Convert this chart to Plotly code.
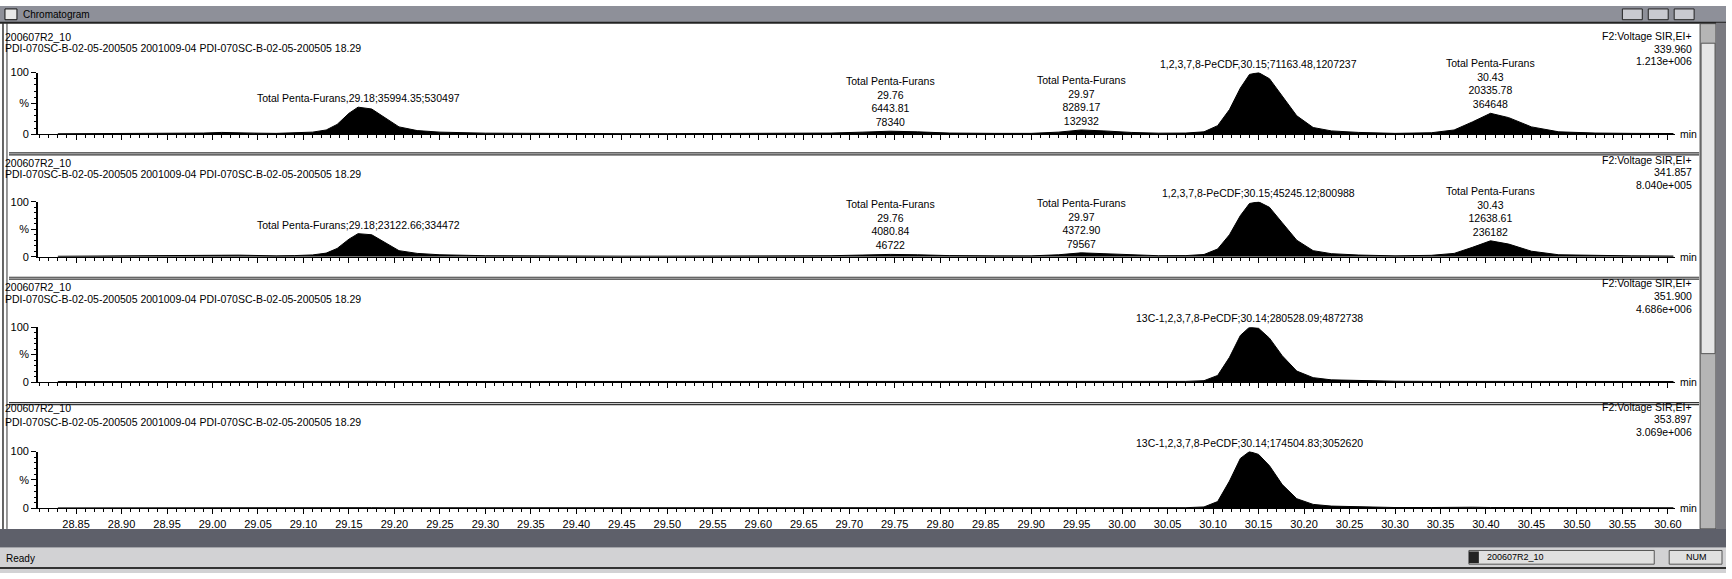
import plotly.graph_objects as go

W, H = 1732, 579

# retention time grid (min) and relative intensity (%) per SIR channel
rt = [28.83, 28.87, 28.92, 28.96, 28.99, 29.01, 29.03, 29.05, 29.07, 29.09,
      29.11, 29.125, 29.137, 29.15, 29.16, 29.175, 29.19, 29.205, 29.225, 29.25,
      29.30, 29.35, 29.40, 29.45, 29.50, 29.55, 29.60, 29.65, 29.68, 29.715,
      29.745, 29.775, 29.81, 29.86, 29.90, 29.93, 29.955, 29.98, 30.01, 30.04,
      30.07, 30.09, 30.105, 30.118, 30.13, 30.14, 30.15, 30.162, 30.176, 30.192,
      30.21, 30.23, 30.26, 30.30, 30.34, 30.365, 30.385, 30.405, 30.425, 30.45,
      30.48, 30.52, 30.56, 30.606]

int_339 = [0.8, 1.0, 1.0, 1.2, 2.0, 3.0, 3.0, 1.8, 1.5, 2.0,
           3.5, 7, 16, 34, 44, 41, 26, 12, 6, 3.5,
           1.8, 1.2, 1.5, 1.0, 1.0, 1.2, 1.5, 1.5, 2.0, 3.5,
           5, 4, 2, 1.5, 1.5, 3.5, 7, 5.5, 3, 1.8,
           2, 4, 14, 40, 75, 97, 100, 90, 62, 30,
           11, 5.5, 3, 1.5, 2.5, 7, 20, 34, 27, 12,
           4, 2, 1.5, 1.2]
int_341 = [0.8, 1.0, 1.0, 1.0, 1.8, 2.6, 2.8, 1.8, 1.5, 2.0,
           3.2, 6.5, 15, 32, 42, 40, 25, 11, 6, 3.5,
           1.8, 1.2, 1.2, 1.0, 1.0, 1.0, 1.2, 1.2, 1.8, 3.0,
           4.2, 3.5, 2, 1.5, 1.5, 3.5, 7, 5.5, 3, 1.8,
           2, 4, 14, 40, 75, 97, 100, 90, 62, 30,
           11, 5.5, 3, 1.5, 2.5, 6, 17, 29, 23, 10,
           3.5, 2, 1.5, 1.2]
int_351 = [0.8, 1.0, 1.0, 1.0, 1.0, 1.2, 1.0, 1.0, 1.0, 1.0,
           1.0, 1.0, 1.2, 1.2, 1.5, 1.2, 1.0, 1.0, 1.0, 1.0,
           1.0, 1.0, 1.0, 1.0, 1.0, 1.0, 1.2, 1.2, 1.2, 1.2,
           1.2, 1.2, 1.2, 1.2, 1.2, 1.2, 1.2, 1.2, 1.2, 1.2,
           1.2, 2.5, 12, 45, 85, 100, 98, 80, 48, 20,
           8, 4, 2.5, 1.5, 1.2, 1.2, 1.5, 1.5, 1.5, 1.2,
           1.2, 1.2, 1.2, 1.0]
int_353 = [0.8, 1.0, 1.0, 1.0, 1.0, 1.0, 1.0, 1.0, 1.0, 1.0,
           1.0, 1.0, 1.2, 1.5, 1.5, 1.2, 1.0, 1.0, 1.0, 1.0,
           1.0, 1.0, 1.0, 1.0, 1.0, 1.0, 1.0, 1.0, 1.0, 1.0,
           1.0, 1.0, 1.0, 1.0, 1.0, 1.0, 1.0, 1.0, 1.0, 1.0,
           1.2, 2.5, 12, 48, 88, 100, 95, 75, 42, 17,
           7, 4, 2.5, 1.5, 1.5, 2, 2, 1.5, 1.5, 1.2,
           1.2, 1.5, 1.5, 1.0]

sample = "200607R2_10"
desc = "PDI-070SC-B-02-05-200505 2001009-04 PDI-070SC-B-02-05-200505 18.29"
func = "F2:Voltage SIR,EI+"
mass = ["339.960", "341.857", "351.900", "353.897"]
scale = ["1.213e+006", "8.040e+005", "4.686e+006", "3.069e+006"]

# peak labels: nominal RT, text
lbl_339 = [(29.17, "Total Penta-Furans,29.18;35994.35;530497"),
           (29.76, "Total Penta-Furans<br>29.76<br>6443.81<br>78340"),
           (29.97, "Total Penta-Furans<br>29.97<br>8289.17<br>132932"),
           (30.15, "1,2,3,7,8-PeCDF,30.15;71163.48,1207237"),
           (30.43, "Total Penta-Furans<br>30.43<br>20335.78<br>364648")]
lbl_341 = [(29.17, "Total Penta-Furans;29.18;23122.66;334472"),
           (29.76, "Total Penta-Furans<br>29.76<br>4080.84<br>46722"),
           (29.97, "Total Penta-Furans<br>29.97<br>4372.90<br>79567"),
           (30.15, "1,2,3,7,8-PeCDF;30.15;45245.12;800988"),
           (30.43, "Total Penta-Furans<br>30.43<br>12638.61<br>236182")]
lbl_351 = [(30.14, "13C-1,2,3,7,8-PeCDF;30.14;280528.09;4872738")]
lbl_353 = [(30.14, "13C-1,2,3,7,8-PeCDF;30.14;174504.83;3052620")]

tick_vals = [28.85, 28.90, 28.95, 29.00, 29.05, 29.10, 29.15, 29.20, 29.25,
             29.30, 29.35, 29.40, 29.45, 29.50, 29.55, 29.60, 29.65, 29.70,
             29.75, 29.80, 29.85, 29.90, 29.95, 30.00, 30.05, 30.10, 30.15,
             30.20, 30.25, 30.30, 30.35, 30.40, 30.45, 30.50, 30.55, 30.60]

###############################################################################
# Layout helpers (pixel -> paper)
###############################################################################
def px(x):
    return x / W


def py(y):
    return 1 - y / H


FONT = "Liberation Sans, Arial, sans-serif"
(X0, X1) = (38, 1681)
P_TOP = [68, 200, 328, 455]
P_BOT = [131, 256, 384, 513]
HDR = [(32, 43), (160, 172), (287, 299), (411, 425)]
RHS = [(31, 44, 56), (157, 170, 183), (283, 296, 309), (409, 422, 435)]
SEP = [150, 277, 405]

channels = [int_339, int_341, int_351, int_353]
labels = [lbl_339, lbl_341, lbl_351, lbl_353]

fig = go.Figure()
annots = []
shapes = []
axes = {}

for k in range(4):
    n = k + 1
    xa = 'x' if n == 1 else 'x%d' % n
    ya = 'y' if n == 1 else 'y%d' % n
    fig.add_trace(go.Scatter(
        x=rt, y=channels[k], xaxis=xa, yaxis=ya, mode='lines',
        line=dict(color='#000', width=1), fill='tozeroy',
        fillcolor='#000', hoverinfo='skip', showlegend=False
    ))
    axes['xaxis%d' % n] = dict(
        domain=[px(X0), px(X1)], range=[28.808, 30.608], anchor=ya,
        showline=True, linecolor='#000', linewidth=1, zeroline=False,
        showgrid=False, ticks='outside', ticklen=5, tickcolor='#000',
        tickvals=tick_vals, tickformat='.2f', showticklabels=(n == 4),
        tickfont=dict(family=FONT, size=11, color='#000'),
        minor=dict(dtick=0.01, tick0=28.8, ticks='outside', ticklen=3,
                   tickcolor='#000', showgrid=False)
    )
    axes['yaxis%d' % n] = dict(
        domain=[py(P_BOT[k]), py(P_TOP[k])], range=[0, 100], anchor=xa,
        autorange=False, fixedrange=True,
        showline=True, linecolor='#000', linewidth=1.5, zeroline=False,
        showgrid=False, ticks='outside', ticklen=5, tickcolor='#000',
        tickmode='array', tickvals=[0, 50, 100], ticktext=['0', '%', '100'],
        tickfont=dict(family=FONT, size=11, color='#000'),
        minor=dict(dtick=10, ticks='outside', ticklen=2, tickcolor='#000')
    )
    # header lines
    annots.append(dict(text=sample, x=px(3), y=py(HDR[k][0]), xref='paper',
                       yref='paper', xanchor='left', yanchor='middle',
                       showarrow=False))
    annots.append(dict(text=desc, x=px(3), y=py(HDR[k][1]), xref='paper',
                       yref='paper', xanchor='left', yanchor='middle',
                       showarrow=False))
    for (yy, txt) in zip(RHS[k], [func, mass[k], scale[k]]):
        annots.append(dict(text=txt, x=px(1700), y=py(yy), xref='paper',
                           yref='paper', xanchor='right', yanchor='middle',
                           showarrow=False))
    annots.append(dict(text='min', x=px(1684), y=py(P_BOT[k]), xref='paper',
                       yref='paper', xanchor='left', yanchor='middle',
                       showarrow=False))
    # peak labels anchored on the apex near the nominal RT
    for (t, txt) in labels[k]:
        idx = [i for i in range(len(rt)) if abs(rt[i] - t) <= 0.04]
        top = max(idx, key=lambda i: channels[k][i])
        annots.append(dict(text=txt, x=rt[top], y=channels[k][top],
                           xref=xa, yref=ya, xanchor='center',
                           yanchor='bottom', yshift=1, showarrow=False,
                           align='center'))

# panel separators
for s in SEP:
    for d in (0, 2):
        shapes.append(dict(type='line', xref='paper', yref='paper',
                           x0=px(9), x1=px(1705), y0=py(s + d), y1=py(s + d),
                           line=dict(color='#333', width=1.2)))

# window chrome -------------------------------------------------------------
shapes += [
    dict(type='rect', xref='paper', yref='paper', x0=0, x1=1, y0=py(17),
         y1=1, fillcolor='#8e9099', line=dict(width=0), layer='below'),
    dict(type='line', xref='paper', yref='paper', x0=0, x1=1, y0=py(17),
         y1=py(17), line=dict(color='#222', width=2)),
    dict(type='rect', xref='paper', yref='paper', x0=px(5), x1=px(17),
         y0=py(14), y1=py(3), fillcolor='#e8e8e8', line=dict(color='#111', width=1)),
    dict(type='line', xref='paper', yref='paper', x0=px(3), x1=px(3),
         y0=py(534), y1=py(17), line=dict(color='#333', width=1.5)),
    dict(type='line', xref='paper', yref='paper', x0=px(7), x1=px(7),
         y0=py(534), y1=py(17), line=dict(color='#333', width=1)),
    # scrollbar
    dict(type='rect', xref='paper', yref='paper', x0=px(1706), x1=px(1722),
         y0=py(534), y1=py(18), fillcolor='#b5b5b5', line=dict(color='#444', width=1)),
    dict(type='rect', xref='paper', yref='paper', x0=px(1707), x1=px(1721),
         y0=py(355), y1=py(38), fillcolor='#e6e6e6', line=dict(color='#555', width=1)),
    dict(type='rect', xref='paper', yref='paper', x0=px(1722), x1=1,
         y0=py(534), y1=py(17), fillcolor='#7a7a80', line=dict(width=0)),
    # bottom bars
    dict(type='rect', xref='paper', yref='paper', x0=0, x1=1, y0=py(553),
         y1=py(534), fillcolor='#5e606a', line=dict(width=0)),
    dict(type='rect', xref='paper', yref='paper', x0=0, x1=1, y0=0,
         y1=py(553), fillcolor='#d2d2d4', line=dict(width=0), layer='below'),
    dict(type='line', xref='paper', yref='paper', x0=0, x1=1, y0=py(574),
         y1=py(574), line=dict(color='#333', width=2)),
    dict(type='rect', xref='paper', yref='paper', x0=px(1474), x1=px(1660),
         y0=py(570), y1=py(556), fillcolor='#e0e0e0', line=dict(color='#555', width=1)),
    dict(type='rect', xref='paper', yref='paper', x0=px(1474), x1=px(1484),
         y0=py(569), y1=py(557), fillcolor='#222', line=dict(width=0)),
    dict(type='rect', xref='paper', yref='paper', x0=px(1675), x1=px(1728),
         y0=py(570), y1=py(556), fillcolor='#e0e0e0', line=dict(color='#555', width=1)),
]
# window buttons
for bx in (1628, 1654, 1680):
    shapes.append(dict(type='rect', xref='paper', yref='paper', x0=px(bx),
                       x1=px(bx + 20), y0=py(14), y1=py(3), fillcolor='#c9cad0',
                       line=dict(color='#222', width=1)))

annots += [
    dict(text='Chromatogram', x=px(21), y=py(9), xref='paper', yref='paper',
         xanchor='left', yanchor='middle', showarrow=False,
         font=dict(family=FONT, size=10, color='#000')),
    dict(text='Ready', x=px(4), y=py(564), xref='paper', yref='paper',
         xanchor='left', yanchor='middle', showarrow=False,
         font=dict(family=FONT, size=10, color='#000')),
    dict(text=sample, x=px(1490), y=py(563), xref='paper', yref='paper',
         xanchor='left', yanchor='middle', showarrow=False,
         font=dict(family=FONT, size=9, color='#000')),
    dict(text='NUM', x=px(1690), y=py(563), xref='paper', yref='paper',
         xanchor='left', yanchor='middle', showarrow=False,
         font=dict(family=FONT, size=9, color='#000')),
]

fig.update_layout(
    width=W, height=H, margin=dict(l=0, r=0, t=0, b=0, pad=0),
    paper_bgcolor='white', plot_bgcolor='white',
    font=dict(family=FONT, size=10.5, color='#000'),
    annotations=annots, shapes=shapes, showlegend=False, **axes
)
fig.write_html("out.html", config={'displayModeBar': False},
               post_script="document.body.style.margin='0px';")
